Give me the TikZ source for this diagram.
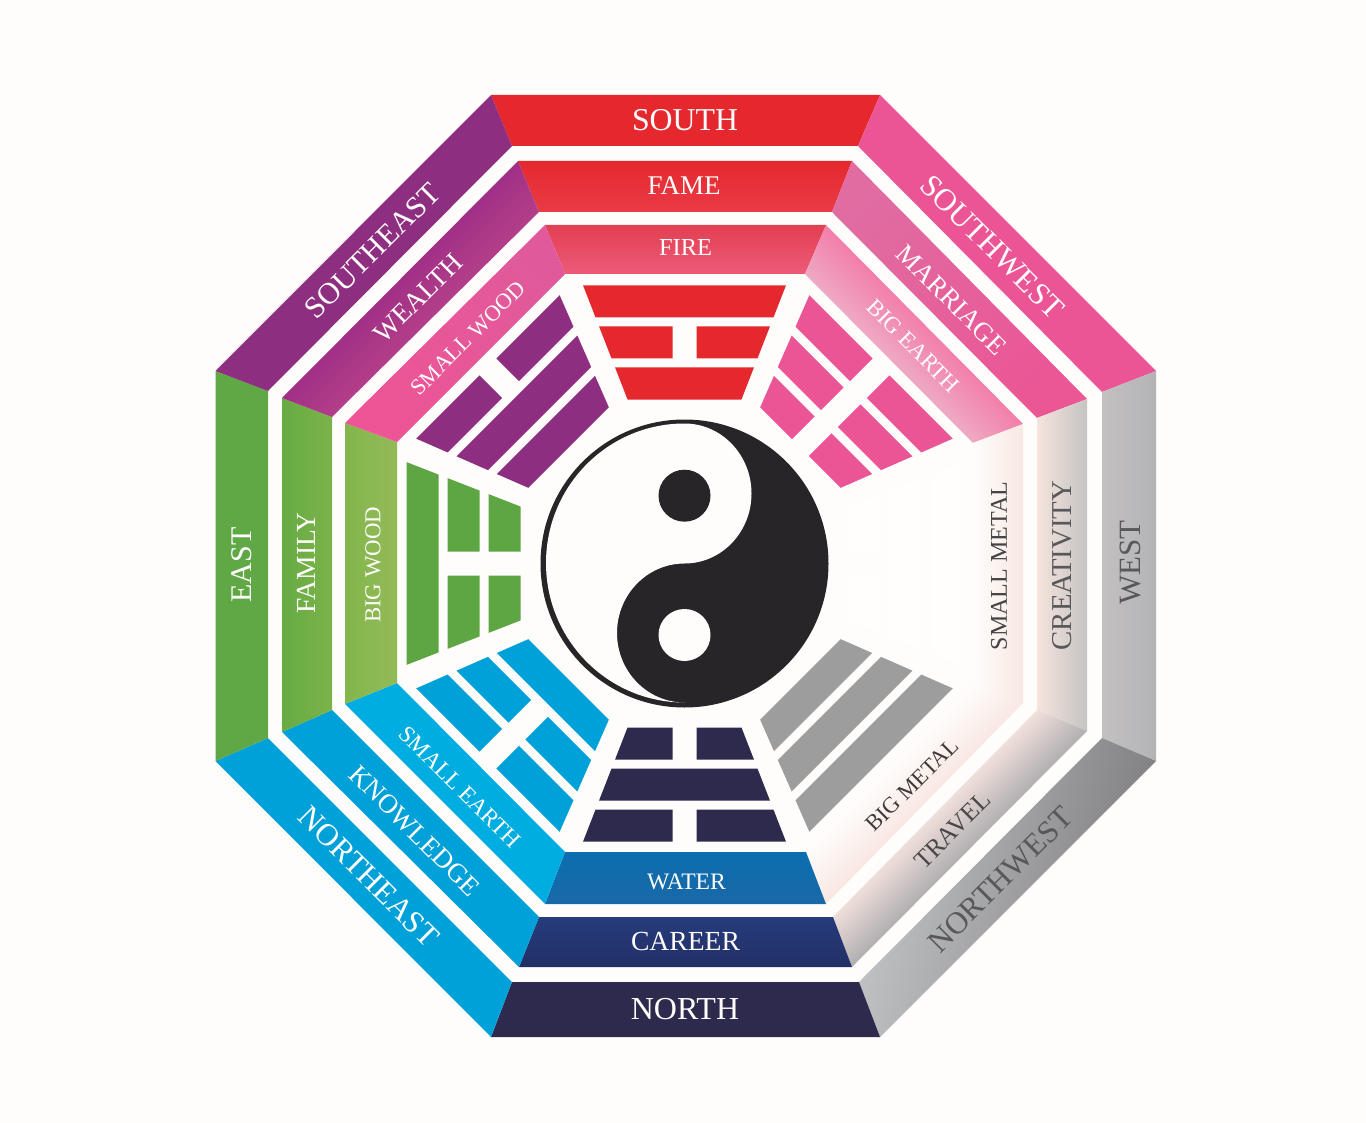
\documentclass[tikz,border=0pt]{standalone}
\usepackage{fontspec}
\setmainfont{Liberation Serif}
\newcommand\hexc[1]{\definecolor{#1}{HTML}{#1}}
\hexc{C3C0C1}\hexc{B3B3B5}\hexc{C4C5C7}\hexc{7C7C7E}\hexc{E5282E}\hexc{E93B46}\hexc{E06CA2}\hexc{EB5695}
\hexc{F5E4DC}\hexc{C5C3C3}\hexc{263C7C}\hexc{222F66}\hexc{67AB43}\hexc{7BB34A}\hexc{E23F52}\hexc{EC5B79}
\hexc{FEFDFC}\hexc{F8E8E2}\hexc{0B6EAF}\hexc{1A69A7}\hexc{00ADE0}\hexc{83B64C}\hexc{93BA58}\hexc{E05A9B}\hexc{ED5596}
\hexc{9D9D9E}\hexc{5DA643}\hexc{444345}\hexc{4A4748}\hexc{3E3A3C}\hexc{FFFEFD}
\definecolor{bg}{HTML}{FEFDFC}
\definecolor{ink}{HTML}{282528}
\definecolor{swpink}{HTML}{EB5596}
\definecolor{redc}{HTML}{E5272E}
\definecolor{navy}{HTML}{2D2A4E}
\definecolor{sky}{HTML}{00A0D9}
\definecolor{grn}{HTML}{60A845}
\definecolor{purp}{HTML}{8E2E80}
\definecolor{darkgrey}{HTML}{58585A}
\definecolor{nwbI}{HTML}{F6E4DE}\definecolor{nwbO}{HTML}{A9A9AC}
\definecolor{nwcI}{HTML}{FEFCFB}\definecolor{nwcO}{HTML}{F8E6E0}
\definecolor{swcI}{HTML}{EEA9C3}\definecolor{swcO}{HTML}{F37BA9}
\definecolor{sebI}{HTML}{B5408A}\definecolor{sebO}{HTML}{9E2E85}
\newcommand\bandshade[3]{\pgfdeclareverticalshading{#1}{100bp}{color(0bp)=(#2); color(42bp)=(#2); color(54bp)=(#3); color(100bp)=(#3)}}
\bandshade{nwb}{nwbI}{nwbO}
\bandshade{nwc}{nwcI}{nwcO}
\bandshade{swc}{swcI}{swcO}
\bandshade{seb}{sebI}{sebO}
\newcommand\seg[4]{\path[#4] (#1o#2) -- (#1o#3) -- (#1i#3) -- (#1i#2) -- cycle;}
\newcommand\ringpts[9]{%
  \coordinate (#11) at #2; \coordinate (#12) at #3; \coordinate (#13) at #4; \coordinate (#14) at #5;
  \coordinate (#15) at #6; \coordinate (#16) at #7; \coordinate (#17) at #8; \coordinate (#18) at #9;}
\newcommand\solidbar[2]{\fill ({-(.39*#1-7)},-#1) -- ({.39*#1-7},-#1) -- ({.39*#2-7},-#2) -- ({-(.39*#2-7)},-#2) -- cycle;}
\newcommand\brokenbar[2]{%
  \fill ({-(.39*#1-7)},-#1) -- (-12,-#1) -- (-12,-#2) -- ({-(.39*#2-7)},-#2) -- cycle;
  \fill ({.39*#1-7},-#1) -- (12,-#1) -- (12,-#2) -- ({.39*#2-7},-#2) -- cycle;}
% angle, colour, outer, middle, inner bar kinds
\newcommand\trigram[5]{\begin{scope}[shift={(684.5,563.5)},rotate=#1,fill=#2]
  #3{278}{246} #4{237}{205} #5{196}{164}
\end{scope}}
\tikzset{
  lab/.style={inner sep=0pt,text=bg},
  darklab/.style={inner sep=0pt,text=darkgrey},
}
\newcommand\fs[1]{\fontsize{#1}{#1}\selectfont}
\begin{document}
\begin{tikzpicture}[x=.5pt,y=-.5pt]
\useasboundingbox (0,0) rectangle (1366,1123);
\fill[bg] (0,0) rectangle (1366,1123);
\ringpts{Ao}{(491,95)}{(880,95)}{(1156,371)}{(1156,761)}{(880,1037)}{(491,1037)}{(215.5,761)}{(215.5,371)}
\ringpts{Ai}{(512,146)}{(858,146)}{(1102,392)}{(1102,738)}{(859,982)}{(512,982)}{(268,738)}{(268,391)}
\ringpts{Bo}{(518,161)}{(852,161)}{(1087,399)}{(1087,731)}{(852,967)}{(519,967)}{(282,732)}{(282,398)}
\ringpts{Bi}{(539,212)}{(832,212)}{(1037,418)}{(1037,710)}{(833,917)}{(539,917)}{(332,710)}{(332,417)}
\ringpts{Co}{(545,225)}{(826,225)}{(1023,424)}{(1023,703)}{(826,904)}{(545,904)}{(345,704)}{(345,423)}
\ringpts{Ci}{(565,274)}{(805,274)}{(973,443)}{(973,683)}{(806,852)}{(565,852)}{(397,683)}{(397,442)}
% outer ring
\seg{A}{1}{2}{fill=redc}
\seg{A}{2}{3}{fill=swpink}
\seg{A}{3}{4}{top color=C3C0C1,bottom color=B3B3B5,shading angle=90}
\seg{A}{4}{5}{top color=C4C5C7,bottom color=7C7C7E,shading angle=80}
\seg{A}{5}{6}{fill=navy}
\seg{A}{6}{7}{fill=sky}
\seg{A}{7}{8}{fill=grn}
\seg{A}{8}{1}{fill=purp}
% middle ring
\seg{B}{1}{2}{top color=E5282E,bottom color=E93B46}
\seg{B}{2}{3}{top color=E06CA2,bottom color=EB5695,shading angle=45}
\seg{B}{3}{4}{top color=F5E4DC,bottom color=C5C3C3,shading angle=90}
\seg{B}{4}{5}{shade,shading=nwb,shading angle=-135}
\seg{B}{5}{6}{top color=263C7C,bottom color=222F66}
\seg{B}{6}{7}{fill=sky}
\seg{B}{7}{8}{top color=67AB43,bottom color=7BB34A,shading angle=90}
\seg{B}{8}{1}{shade,shading=seb,shading angle=45}
% inner ring
\seg{C}{1}{2}{top color=E23F52,bottom color=EC5B79}
\seg{C}{2}{3}{shade,shading=swc,shading angle=-45}
\seg{C}{3}{4}{top color=FEFDFC,bottom color=F8E8E2,shading angle=90}
\seg{C}{4}{5}{shade,shading=nwc,shading angle=-135}
\seg{C}{5}{6}{top color=0B6EAF,bottom color=1A69A7}
\seg{C}{6}{7}{fill=00ADE0}
\seg{C}{7}{8}{top color=83B64C,bottom color=93BA58,shading angle=90}
\seg{C}{8}{1}{top color=E05A9B,bottom color=ED5596,shading angle=-45}
% trigrams
\trigram{0}{redc}{\solidbar}{\brokenbar}{\solidbar}
\trigram{-45}{swpink}{\brokenbar}{\brokenbar}{\brokenbar}
\trigram{-90}{FFFEFD}{\solidbar}{\solidbar}{\brokenbar}
\trigram{-135}{9D9D9E}{\solidbar}{\solidbar}{\solidbar}
\trigram{180}{navy}{\brokenbar}{\solidbar}{\brokenbar}
\trigram{135}{sky}{\brokenbar}{\brokenbar}{\solidbar}
\trigram{90}{5DA643}{\solidbar}{\brokenbar}{\brokenbar}
\trigram{45}{purp}{\brokenbar}{\solidbar}{\solidbar}
% yin yang
\fill[ink] (684.5,563.5) circle[radius=72pt];
\fill[bg] (684.5,423.5) arc[start angle=90,end angle=-90,x radius=33.5pt,y radius=35pt]
  arc[start angle=90,end angle=270,x radius=33.75pt,y radius=34.75pt]
  arc[start angle=-90,end angle=-270,x radius=69.25pt,y radius=69.75pt] -- cycle;
\fill[ink] (684.5,495.7) circle[radius=13pt];
\fill[bg] (684.5,635) circle[radius=13pt];
% labels
\node[lab] (south) at (685,120) {\fs{15.9}SOUTH};
\node[lab] (fame) at (684,186) {\fs{13.5}FAME};
\node[lab] (fire) at (685.5,248) {\fs{12.2}FIRE};
\node[lab] (water) at (686.5,882) {\fs{11.8}WATER};
\node[lab] (career) at (685.5,941) {\fs{13.8}CAREER};
\node[lab] (north) at (685,1009) {\fs{16}NORTH};
\node[lab,rotate=90] (east) at (242,565) {\fs{15}EAST};
\node[lab,rotate=90] (family) at (306,563) {\fs{13.8}FAMILY};
\node[lab,rotate=90] (bigwood) at (373,565) {\fs{11.4}BIG WOOD};
\node[darklab,rotate=90] (west) at (1130,562.5) {\fs{15.5}WEST};
\node[darklab,rotate=90] (creativity) at (1062,565.5) {\fs{14.4}CREATIVITY};
\node[darklab,rotate=90,text=444345] (smallmetal) at (999,566) {\fs{12}SMALL METAL};
\node[lab,rotate=-45] (southwest) at (992.5,247) {\fs{15.6}SOUTHWEST};
\node[lab,rotate=-45] (marriage) at (951.7,300) {\fs{13.4}MARRIAGE};
\node[lab,rotate=-45] (bigearth) at (913.3,345.8) {\fs{11.5}BIG EARTH};
\node[lab,rotate=45] (southeast) at (372.5,250.8) {\fs{15.2}SOUTHEAST};
\node[lab,rotate=45] (wealth) at (418,298) {\fs{13.7}WEALTH};
\node[lab,rotate=45] (smallwood) at (468,338.3) {\fs{11.2}SMALL WOOD};
\node[lab,rotate=-45] (northeast) at (369,876.7) {\fs{15.6}NORTHEAST};
\node[lab,rotate=-45] (knowledge) at (414.7,830.8) {\fs{13.5}KNOWLEDGE};
\node[lab,rotate=-45] (smallearth) at (460,787) {\fs{11.7}SMALL EARTH};
\node[darklab,rotate=45] (northwest) at (1000.3,879.7) {\fs{15.6}NORTHWEST};
\node[darklab,rotate=45,text=4A4748] (travel) at (952.5,830) {\fs{12.7}TRAVEL};
\node[darklab,rotate=45,text=3E3A3C] (bigmetal) at (912,785) {\fs{11.3}BIG METAL};
\end{tikzpicture}
\end{document}
